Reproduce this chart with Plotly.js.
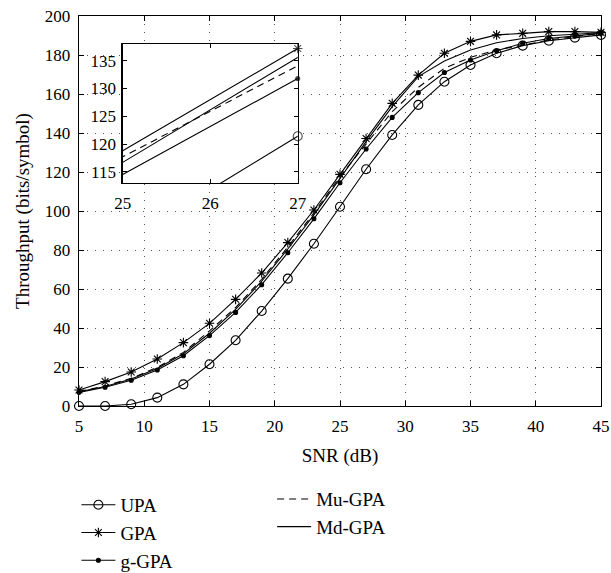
<!DOCTYPE html>
<html>
<head>
<meta charset="utf-8">
<script src="https://cdn.plot.ly/plotly-3.0.1.min.js"></script>
<style>html,body{margin:0;padding:0;background:#fff;}#chart{width:611px;height:573px;}</style>
</head>
<body>
<div id="chart"></div>
<script>
// SNR values (dB)
const snr = [5,7,9,11,13,15,17,19,21,23,25,27,29,31,33,35,37,39,41,43,45];
// Throughput (bits/symbol)
const upa  = [0, 0, 0.9, 4.3, 11.1, 21.4, 33.7, 48.7, 65.3, 83.2, 102.2, 121.4, 139, 154.4, 166.3, 174.9, 180.9, 184.8, 187.3, 188.9, 190.3];
const gpa  = [8.2, 12.5, 17.4, 24.1, 32.5, 42.4, 54.7, 68.2, 83.8, 100.5, 118.8, 137.2, 155.2, 169.7, 180.9, 187, 190.3, 191.1, 192, 192, 191.6];
const ggpa = [7.0, 9.6, 13.2, 18.5, 25.8, 36.1, 48, 62.2, 78.6, 96, 114.5, 131.8, 148, 160.7, 171, 177.4, 182.2, 186, 188.5, 189.7, 191.1];
const mugpa = [7.5, 10.3, 14.2, 19.8, 27.5, 38.5, 50.5, 65, 81.5, 99, 117.7, 134.1, 151, 163.4, 173.2, 178.8, 182.6, 185, 187.7, 189.4, 191.1];
const mdgpa = [7.3, 10, 13.8, 19.2, 26.8, 37.3, 49.5, 64, 80.5, 98, 116.7, 135.6, 153.5, 168.9, 176.9, 182.6, 186.3, 188.5, 189.9, 190.8, 191.4];
const names = ['UPA','GPA','g-GPA','Mu-GPA','Md-GPA'];
const xTicks = [5,10,15,20,25,30,35,40,45];
const yTicks = [0,20,40,60,80,100,120,140,160,180,200];
const insetXTicks = [25,26,27];
const insetYTicks = [115,120,125,130,135];

const FONT = 'Liberation Serif, Times New Roman, serif';
const series = [
  {y: upa,   name: names[0], sym: 'circle-open',   size: 9, dash: 'solid', leg: 'legend',  mode: 'lines+markers'},
  {y: gpa,   name: names[1], sym: 'asterisk-open', size: 8, dash: 'solid', leg: 'legend',  mode: 'lines+markers'},
  {y: ggpa,  name: names[2], sym: 'circle',        size: 4, dash: 'solid', leg: 'legend',  mode: 'lines+markers'},
  {y: mugpa, name: names[3], sym: 'circle',        size: 0, dash: '7px,5px', leg: 'legend2', mode: 'lines'},
  {y: mdgpa, name: names[4], sym: 'circle',        size: 0, dash: 'solid', leg: 'legend2', mode: 'lines'}
];

const traces = [];
series.forEach((s, i) => {
  traces.push({
    x: snr, y: s.y, name: s.name, type: 'scatter', mode: s.mode,
    line: {color: '#000', width: 1.1, dash: s.dash},
    marker: {symbol: s.sym, size: s.size, color: '#000', line: {color: '#000', width: 1.1}},
    cliponaxis: false, legend: s.leg,
    xaxis: 'x', yaxis: 'y'
  });
});
series.forEach((s, i) => {
  traces.push({
    x: snr, y: s.y, name: s.name, type: 'scatter', mode: s.mode, showlegend: false,
    line: {color: '#000', width: 1.1, dash: s.dash},
    marker: {symbol: s.sym, size: snr.map(v => v === 27 ? s.size : 0), color: '#000', line: {color: '#000', width: 1.1}},
    cliponaxis: false,
    xaxis: 'x2', yaxis: 'y2'
  });
});

const axBase = {
  showline: true, linecolor: '#000', linewidth: 1.3, mirror: 'ticks',
  ticks: 'inside', ticklen: 5, tickcolor: '#000', tickwidth: 1,
  zeroline: false, tickfont: {family: FONT, size: 17, color: '#000'}
};

const layout = {
  width: 611, height: 573,
  margin: {l: 79, r: 10, t: 16, b: 167, autoexpand: false},
  paper_bgcolor: '#fff', plot_bgcolor: '#fff',
  font: {family: FONT, color: '#000'},
  xaxis: Object.assign({}, axBase, {
    range: [5, 45], tickvals: xTicks, domain: [0, 1], automargin: false,
    showgrid: true, gridcolor: '#555', gridwidth: 1, griddash: '1px,7px',
    title: {text: 'SNR (dB)', font: {family: FONT, size: 19, color: '#000'}, standoff: 14},
    ticklabelstandoff: 4
  }),
  yaxis: Object.assign({}, axBase, {
    range: [0, 200], tickvals: yTicks, domain: [0, 1], automargin: false,
    showgrid: true, gridcolor: '#555', gridwidth: 1, griddash: '1px,7px',
    title: {text: 'Throughput (bits/symbol)', font: {family: FONT, size: 19, color: '#000'}, standoff: 10},
    ticklabelstandoff: 4
  }),
  xaxis2: Object.assign({}, axBase, {
    range: [25, 27], tickvals: insetXTicks, domain: [0.0837, 0.419], anchor: 'y2', automargin: false,
    showgrid: false, ticklen: 4, ticklabelstandoff: 4
  }),
  yaxis2: Object.assign({}, axBase, {
    range: [113, 138], tickvals: insetYTicks, domain: [0.572, 0.928], anchor: 'x2', automargin: false,
    showgrid: false, ticklen: 4, ticklabelstandoff: 2
  }),
  legend: {
    x: -0.005, xanchor: 'left', y: -0.205, yanchor: 'top',
    font: {family: FONT, size: 19, color: '#000'}, bgcolor: 'rgba(0,0,0,0)',
    itemwidth: 34
  },
  legend2: {
    x: 0.37, xanchor: 'left', y: -0.19, yanchor: 'top',
    font: {family: FONT, size: 19, color: '#000'}, bgcolor: 'rgba(0,0,0,0)',
    itemwidth: 34
  },
  showlegend: true
};

Plotly.newPlot('chart', traces, layout, {displayModeBar: false, staticPlot: true});
</script>
</body>
</html>
